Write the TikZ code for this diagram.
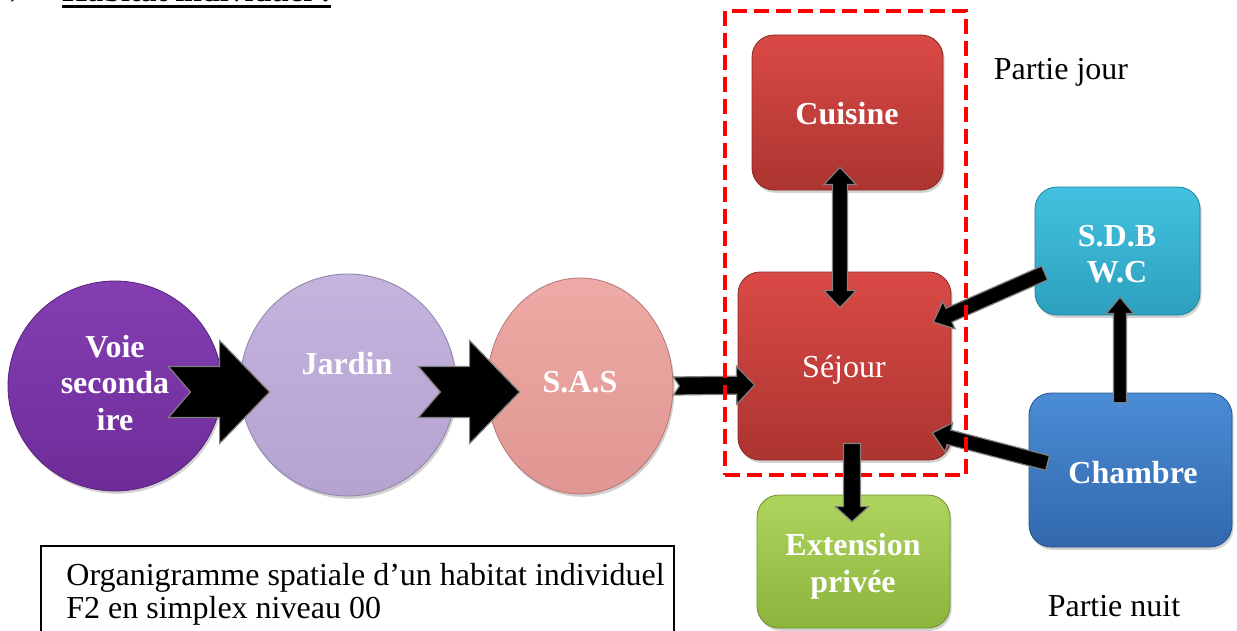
\documentclass[tikz,border=0pt]{standalone}
\usepackage{fontspec}
\setmainfont{Liberation Serif}
\usetikzlibrary{shapes.geometric,calc,shadows}
\definecolor{voieT}{RGB}{132,62,178}
\definecolor{voieB}{RGB}{110,44,152}
\definecolor{jarT}{RGB}{196,180,222}
\definecolor{jarB}{RGB}{180,162,208}
\definecolor{sasT}{RGB}{238,170,166}
\definecolor{sasB}{RGB}{224,150,146}
\definecolor{redT}{RGB}{218,74,70}
\definecolor{redB}{RGB}{172,52,48}
\definecolor{grnT}{RGB}{174,212,94}
\definecolor{grnB}{RGB}{140,180,60}
\definecolor{cyaT}{RGB}{66,194,224}
\definecolor{cyaB}{RGB}{44,160,190}
\definecolor{bluT}{RGB}{74,140,214}
\definecolor{bluB}{RGB}{50,104,172}
\tikzset{
  lbl/.style={text=white, font=\fontsize{16}{18.3}\selectfont\bfseries, align=center, inner sep=0pt},
  plaintxt/.style={font=\fontsize{16}{18}\selectfont, inner sep=0pt},
  shadowed/.style={drop shadow={opacity=0.35, shadow xshift=0.8pt, shadow yshift=-1.4pt}},
  roomrect/.style={rectangle, rounded corners=11pt, line width=0.4pt, shadowed, inner sep=0pt},
  roomcirc/.style={ellipse, line width=0.4pt, shadowed, inner sep=0pt},
  barrow/.style={fill=black, draw=black!50, line width=0.6pt, line join=miter},
  dayframe/.style={draw=red, line width=2pt, dash pattern=on 7.5pt off 3.5pt, inner sep=0pt},
  capframe/.style={draw=black, line width=1pt, inner sep=0pt}
}
% #1 start, #2 end, #3 shaft half width, #4 head half width, #5 head length, #6 notch depth, #7 id
\newcommand\blockarrow[7]{%
  \path ($(#2)!#5!(#1)$) coordinate (#7h);
  \filldraw[barrow] ($(#1)!#3!90:(#2)$) -- ($(#1)!#6!(#2)$) -- ($(#1)!#3!-90:(#2)$)
    -- ($(#7h)!#3!-90:(#2)$) -- ($(#7h)!#4!-90:(#2)$) -- (#2)
    -- ($(#7h)!#4!90:(#2)$) -- ($(#7h)!#3!90:(#2)$) -- cycle;}
% #1 start, #2 end, #3 shaft half width, #4 head half width, #5 head length, #6 id
\newcommand\dblarrow[6]{%
  \path ($(#2)!#5!(#1)$) coordinate (#6h) ($(#1)!#5!(#2)$) coordinate (#6g);
  \filldraw[barrow] (#1) -- ($(#6g)!#4!-90:(#2)$) -- ($(#6g)!#3!-90:(#2)$)
    -- ($(#6h)!#3!-90:(#2)$) -- ($(#6h)!#4!-90:(#2)$) -- (#2)
    -- ($(#6h)!#4!90:(#2)$) -- ($(#6h)!#3!90:(#2)$)
    -- ($(#6g)!#3!90:(#2)$) -- ($(#6g)!#4!90:(#2)$) -- cycle;}
\begin{document}
\begin{tikzpicture}[x=0.5pt,y=-0.5pt]
\useasboundingbox (0,0) rectangle (1237,631);
\fill[white] (0,0) rectangle (1237,631);

% heading (cut off at the top) and caption frame
\begin{scope}
\clip (0,0) rectangle (1237,631);
\node[anchor=base west, font=\fontsize{16}{18}\selectfont\bfseries, inner sep=0pt] (heading) at (62,2) {Habitat individuel :};
\node[anchor=base west, font=\fontsize{16}{18}\selectfont, inner sep=0pt] (hnum) at (10,-4) {)};
\fill[black] (62,5) rectangle (331,8);
\node[capframe, minimum width=316.5pt, minimum height=50pt, anchor=north west] (capbox) at (40,545) {};
\end{scope}
\node[anchor=west, align=left, font=\fontsize{16}{16.5}\selectfont, inner sep=0pt] (caption) at (66,594)
  {Organigramme spatiale d’un habitat individuel\\F2 en simplex niveau 00};

% circles
\node[roomcirc, top color=voieT, bottom color=voieB, draw=voieB!80!black, minimum width=107pt, minimum height=105pt] (voie) at (115,386) {};
\node[lbl] (voietxt) at (115,383) {Voie\\seconda\\ire};
\node[roomcirc, top color=jarT, bottom color=jarB, draw=jarB!80!black, minimum width=108pt, minimum height=111pt] (jardin) at (348,385) {};
\node[lbl] (jardintxt) at (347,364) {Jardin};
\node[roomcirc, top color=sasT, bottom color=sasB, draw=sasB!80!black, minimum width=93pt, minimum height=108pt] (sas) at (580,386) {};
\node[lbl] (sastxt) at (580,382) {S.A.S};

% rooms
\node[roomrect, top color=redT, bottom color=redB, draw=redB!80!black, minimum width=95.5pt, minimum height=77.5pt] (cuisine) at (847.5,112.5) {};
\node[lbl] (cuisinetxt) at (847,114) {Cuisine};
\node[roomrect, top color=redT, bottom color=redB, draw=redB!80!black, minimum width=106.5pt, minimum height=94pt] (sejour) at (844.5,366) {};
\node[lbl, font=\fontsize{16}{18}\selectfont] (sejourtxt) at (844,370) {Séjour};
\node[roomrect, top color=grnT, bottom color=grnB, draw=grnB!80!black, minimum width=96.5pt, minimum height=66.5pt] (ext) at (853.5,561.5) {};
\node[lbl] (exttxt) at (853,566) {Extension\\privée};
\node[roomrect, top color=cyaT, bottom color=cyaB, draw=cyaB!80!black, minimum width=82.5pt, minimum height=64pt] (sdb) at (1117.5,251) {};
\node[lbl] (sdbtxt) at (1117,254) {S.D.B\\W.C};
\node[roomrect, top color=bluT, bottom color=bluB, draw=bluB!80!black, minimum width=101.5pt, minimum height=77pt] (chambre) at (1130.5,470) {};
\node[lbl] (chambretxt) at (1133,473) {Chambre};

% side labels
\node[plaintxt] (pjour) at (1061,72) {Partie jour};
\node[plaintxt] (pnuit) at (1114,606) {Partie nuit};

% connector end points
\coordinate (a1s) at ([shift={(-54,6)}]voie.east);
\coordinate (a1e) at ([shift={(30,7)}]jardin.west);
\coordinate (a2s) at ([shift={(-38,7)}]jardin.east);
\coordinate (a2e) at ([shift={(33,6)}]sas.west);
\coordinate (a3s) at (sas.east);
\coordinate (a3e) at ([shift={(17,19)}]sejour.west);
\coordinate (a4s) at ([shift={(-7.5,-23)}]cuisine.south);
\coordinate (a4e) at ([shift={(-4.5,36)}]sejour.north);
\coordinate (a5s) at ([shift={(7.5,-17)}]sejour.south);
\coordinate (a5e) at ([shift={(-1.5,27)}]ext.north);
\coordinate (a6s) at ([shift={(10,22)}]sdb.west);
\coordinate (a6e) at ([shift={(-18,-44)}]sejour.east);
\coordinate (a7s) at ([shift={(19,-7)}]chambre.west);
\coordinate (a7e) at ([shift={(-19,67)}]sejour.east);
\coordinate (a8s) at ([shift={(-10.5,10)}]chambre.north);
\coordinate (a8e) at ([shift={(2.5,-18)}]sdb.south);

% connectors
\blockarrow{a1s}{a1e}{12.75pt}{25.75pt}{25pt}{11pt}{ar1}
\blockarrow{a2s}{a2e}{12.75pt}{25.75pt}{25pt}{11pt}{ar2}
\blockarrow{a3s}{a3e}{4.5pt}{9.5pt}{9pt}{3pt}{ar3}
\dblarrow{a4s}{a4e}{3.75pt}{8pt}{8.5pt}{ar4}
\blockarrow{a6s}{a6e}{3.75pt}{7.5pt}{8.5pt}{0pt}{ar6}
\blockarrow{a7s}{a7e}{3.75pt}{7.5pt}{8.5pt}{0pt}{ar7}
\blockarrow{a8s}{a8e}{3.25pt}{6.75pt}{8pt}{0pt}{ar8}

% day zone frame
\node[dayframe, minimum width=120.5pt, minimum height=232pt] (dayzone) at (845.5,243) {};

\blockarrow{a5s}{a5e}{4.25pt}{8.25pt}{7.5pt}{0pt}{ar5}
\end{tikzpicture}
\end{document}
